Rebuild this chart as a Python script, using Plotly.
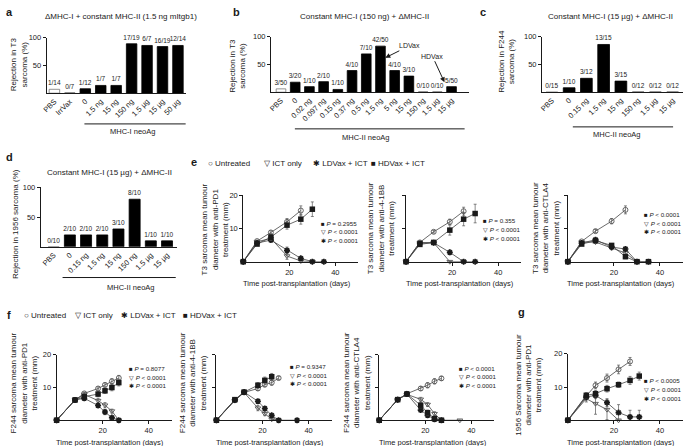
import plotly.graph_objects as go

W, H = 685, 446
INK = "#1a1a1a"
FONT = "Liberation Sans, Arial, sans-serif"

# ---- a: rejection in T3, constant MHC-II ----
a_doses = ["PBS", "IrrVax", "0", "1.5 ng", "15 ng", "150 ng", "1.5 µg", "15 µg", "50 µg"]
a_rejection = [7, 0, 8, 14, 14, 89, 86, 84, 86]
a_counts = ["1/14", "0/7", "1/12", "1/7", "1/7", "17/19", "6/7", "16/19", "12/14"]

# ---- b: rejection in T3, constant MHC-I ----
b_doses = ["PBS", "0", "0.02 ng", "0.097 ng", "0.15 ng", "0.37 ng", "0.5 ng",
           "1.5 ng", "5 ng", "15 ng", "150 ng", "1.5 µg", "15 µg"]
b_rejection = [6, 18, 10, 19, 5, 39, 69, 83, 39, 29, 0, 0, 10]
b_counts = ["3/50", "3/20", "1/10", "2/10", "1/10", "4/10", "7/10",
            "42/50", "4/10", "3/10", "0/10", "0/10", "5/50"]

# ---- c: rejection in F244 ----
c_doses = ["PBS", "0", "0.15 ng", "1.5 ng", "15 ng", "150 ng", "1.5 µg", "15 µg"]
c_rejection = [0, 8, 25, 86, 20, 0, 0, 0]
c_counts = ["0/15", "1/10", "3/12", "13/15", "3/15", "0/12", "0/12", "0/12"]

# ---- d: rejection in 1956 ----
d_doses = ["PBS", "0", "0.15 ng", "1.5 ng", "15 ng", "150 ng", "1.5 µg", "15 µg"]
d_rejection = [0, 20, 20, 20, 30, 80, 10, 10]
d_counts = ["0/10", "2/10", "2/10", "2/10", "3/10", "8/10", "1/10", "1/10"]

# ---- e: T3 tumour growth (mm) ----
e1_days = [0, 6, 12, 19, 25, 30, 35]
e1_untreated = [0, 6.2, 8.8, 12.0, 15.4, None, None]
e1_untreated_err = [0, 0.3, 0.5, 1.0, 1.4, None, None]
e1_ict = [0, 6.0, 7.0, 1.7, 0.2, 0, None]
e1_ict_err = [0, 0.3, 0.6, 1.0, 0.3, 0, None]
e1_ldvax = [0, 5.6, 6.5, 3.4, 1.0, 0, 0]
e1_ldvax_err = [0, 0.3, 0.6, 1.0, 0.6, 0, 0]
e1_hdvax = [0, 5.3, 7.4, 11.0, 12.8, 15.8, None]
e1_hdvax_err = [0, 0.3, 1.0, 1.2, 1.5, 2.2, None]
e1_pvals = ["= 0.2955", "&lt; 0.0001", "&lt; 0.0001"]

e2_days = [0, 6, 12, 19, 25, 30]
e2_untreated = [0, 5.8, 9.0, 12.0, 15.2, None]
e2_untreated_err = [0, 0.3, 0.4, 0.8, 1.2, None]
e2_ict = [0, 5.8, 5.7, 0, 0, None]
e2_ict_err = [0, 0.3, 0.4, 0, 0, None]
e2_ldvax = [0, 5.5, 5.7, 2.8, 0, 0]
e2_ldvax_err = [0, 0.3, 0.4, 0.7, 0, 0]
e2_hdvax = [0, 5.2, 5.8, 9.5, 12.8, 14.5]
e2_hdvax_err = [0, 0.3, 0.4, 1.5, 2.0, 2.8]
e2_pvals = ["= 0.355", "&lt; 0.0001", "&lt; 0.0001"]

e3_days = [0, 6, 12, 19, 25, 30, 35]
e3_untreated = [0, 6.1, 9.2, 12.2, 15.6, None, None]
e3_untreated_err = [0, 0.3, 0.5, 0.8, 1.2, None, None]
e3_ict = [0, 5.9, 5.9, 4.1, 2.6, 0, None]
e3_ict_err = [0, 0.3, 0.4, 0.5, 0.6, 0, None]
e3_ldvax = [0, 5.6, 6.6, 4.4, 3.8, 0, 0]
e3_ldvax_err = [0, 0.3, 0.5, 0.5, 0.6, 0, 0]
e3_hdvax = [0, 5.3, 6.3, 4.9, 1.5, 0, 0]
e3_hdvax_err = [0, 0.3, 0.5, 0.5, 0.6, 0, 0]
e3_pvals = ["&lt; 0.0001", "&lt; 0.0001", "&lt; 0.0001"]

# ---- f: F244 tumour growth (mm) ----
f1_days = [0, 8, 12, 18, 21, 24, 27]
f1_untreated = [0, 6.2, 8.2, 9.7, 10.8, 11.9, 12.9]
f1_untreated_err = [0, 0.3, 0.4, 0.5, 0.6, 0.8, 0.8]
f1_ict = [0, 6.2, 7.9, 6.0, 4.6, 2.8, 0]
f1_ict_err = [0, 0.3, 0.4, 0.7, 0.8, 0.6, 0]
f1_ldvax = [0, 6.2, 6.7, 4.5, 2.5, 0.8, 0]
f1_ldvax_err = [0, 0.3, 0.5, 0.6, 0.8, 0.5, 0]
f1_hdvax = [0, 6.2, 7.2, 8.0, 9.0, 10.0, 11.5]
f1_hdvax_err = [0, 0.3, 0.5, 0.8, 0.8, 1.0, 1.0]
f1_pvals = ["= 0.8077", "&lt; 0.0001", "&lt; 0.0001"]

f2_days = [0, 8, 12, 18, 21, 24, 27, 35]
f2_untreated = [0, 6.2, 8.5, 9.7, 10.9, 11.5, 12.9, None]
f2_untreated_err = [0, 0.3, 0.4, 0.6, 0.7, 0.8, 0.5, None]
f2_ict = [0, 6.0, 8.5, 3.7, 2.0, 0.3, 0, None]
f2_ict_err = [0, 0.3, 0.4, 0.8, 0.6, 0.3, 0, None]
f2_ldvax = [0, 6.2, 8.6, 5.8, 3.6, 1.5, 0, 0]
f2_ldvax_err = [0, 0.3, 0.4, 0.6, 0.6, 0.6, 0, 0]
f2_hdvax = [0, 6.3, 8.6, 10.7, 12.2, 13.3, None, None]
f2_hdvax_err = [0, 0.3, 0.4, 0.8, 1.0, 1.0, None, None]
f2_pvals = ["= 0.9347", "&lt; 0.0001", "&lt; 0.0001"]

f3_days = [0, 8, 12, 18, 21, 24, 27, 35]
f3_untreated = [0, 6.3, 8.1, 9.7, 10.7, 11.9, 12.8, None]
f3_untreated_err = [0, 0.3, 0.4, 0.6, 0.8, 0.8, 0.6, None]
f3_ict = [0, 6.3, 7.9, 6.4, 4.8, 2.0, 0, 0]
f3_ict_err = [0, 0.3, 0.4, 0.6, 0.6, 0.6, 0, 0]
f3_ldvax = [0, 6.3, 8.0, 3.1, 1.5, 0.3, 0, None]
f3_ldvax_err = [0, 0.3, 0.4, 0.6, 0.5, 0.3, 0, None]
f3_hdvax = [0, 6.3, 8.0, 4.6, 2.3, 0.5, 0, None]
f3_hdvax_err = [0, 0.3, 0.4, 0.8, 0.8, 0.4, 0, None]
f3_pvals = ["&lt; 0.0001", "&lt; 0.0001", "&lt; 0.0001"]

# ---- g: 1956 tumour growth (mm) ----
g_days = [0, 8, 12, 17, 22, 27, 31]
g_untreated = [0, 7.3, 10.5, 12.7, 15.3, 17.7, None]
g_untreated_err = [0, 0.8, 1.0, 1.2, 1.3, 1.2, None]
g_ict = [0, 6.5, 5.0, 3.2, 0, None, None]
g_ict_err = [0, 1.0, 3.2, 3.0, 0, None, None]
g_ldvax = [0, 7.0, 7.5, 5.3, 2.3, 1.0, 1.0]
g_ldvax_err = [0, 0.8, 1.0, 1.2, 2.4, 2.0, 2.0]
g_hdvax = [0, 7.5, 8.0, 9.5, 10.7, 12.0, 13.3]
g_hdvax_err = [0, 0.8, 1.0, 1.0, 0.8, 1.2, 1.2]
g_pvals = ["&lt; 0.0005", "&lt; 0.0001", "&lt; 0.0001"]

group_names = ["Untreated", "ICT only", "LDVax + ICT", "HDVax + ICT"]
group_glyphs = ["○", "▽", "✱", "■"]
pval_glyphs = ["■", "▽", "✱"]


def px_x(v):
    return v / W


def px_y(v):
    return 1 - v / H


def ax_ids(n):
    s = "" if n == 1 else str(n)
    return "x" + s, "y" + s, "xaxis" + s, "yaxis" + s


fig = go.Figure()


def note(text, x, y, size=7.5, xanchor="center", yanchor="middle", **kw):
    fig.add_annotation(text=text, x=px_x(x), y=px_y(y), xref="paper", yref="paper",
                       showarrow=False, xanchor=xanchor, yanchor=yanchor,
                       font=dict(size=size, color=INK, family=FONT), **kw)


def hline(x0, x1, y):
    fig.add_shape(type="line", xref="paper", yref="paper", x0=px_x(x0), x1=px_x(x1),
                  y0=px_y(y), y1=px_y(y), line=dict(color=INK, width=1))


def bar_panel(n, cats, vals, counts, x0, x1, ytop, ybot, xrange):
    xr, yr, xa, ya = ax_ids(n)
    fill = ["white"] + ["black"] * (len(cats) - 1)
    edge = ["#777"] + ["black"] * (len(cats) - 1)
    fig.add_trace(go.Bar(
        x=cats, y=vals, text=counts, textposition="outside",
        textfont=dict(size=6.5, color=INK), constraintext="none", cliponaxis=False,
        width=0.68, marker=dict(color=fill, line=dict(color=edge, width=0.8)),
        xaxis=xr, yaxis=yr, showlegend=False, hoverinfo="skip"))
    fig.update_layout({
        xa: dict(domain=[px_x(x0), px_x(x1)], anchor=yr, type="category", range=xrange,
                 showline=True, linecolor=INK, linewidth=1, ticks="", tickangle=-45,
                 tickfont=dict(size=7.5), showgrid=False, zeroline=False),
        ya: dict(domain=[px_y(ybot), px_y(ytop)], anchor=xr, range=[0, 100],
                 tickvals=[50, 100], ticks="outside", ticklen=3, tickwidth=1,
                 tickcolor=INK, showline=True, linecolor=INK, linewidth=1,
                 tickfont=dict(size=7.5), showgrid=False, zeroline=False),
    })


def line_panel(n, days, series, errors, x0, x1, ytop, ybot, ylabels):
    xr, yr, xa, ya = ax_ids(n)
    markers = [
        dict(symbol="circle-open", size=5, color="#555", line=dict(width=0.9, color="#555")),
        dict(symbol="triangle-down-open", size=5, color="#555", line=dict(width=0.9, color="#555")),
        dict(symbol="asterisk-open", size=5, color=INK, line=dict(width=1.6, color=INK)),
        dict(symbol="square", size=5.5, color=INK, line=dict(width=0)),
    ]
    for name, ys, es, mk in zip(group_names, series, errors, markers):
        fig.add_trace(go.Scatter(
            x=days, y=ys, name=name, mode="lines+markers", marker=mk,
            line=dict(color="#444", width=0.8),
            error_y=dict(type="data", array=es, thickness=0.7, width=1.5, color="#555"),
            xaxis=xr, yaxis=yr, cliponaxis=False, showlegend=False, hoverinfo="skip"))
    fig.update_layout({
        xa: dict(domain=[px_x(x0), px_x(x1)], anchor=yr, range=[0, 50], tickvals=[20, 40],
                 ticks="outside", ticklen=3, tickcolor=INK, showline=True, linecolor=INK,
                 linewidth=1, tickfont=dict(size=7.5), showgrid=False, zeroline=False),
        ya: dict(domain=[px_y(ybot), px_y(ytop)], anchor=xr, range=[0, 20], tickvals=[10, 20],
                 ticks="outside", ticklen=3, tickcolor=INK, showline=True, linecolor=INK,
                 linewidth=1, showticklabels=ylabels, tickfont=dict(size=7.5),
                 showgrid=False, zeroline=False),
    })
    note("Time post-transplantation (days)", (x0 + x1) / 2 - 4, ybot + 22, size=7.5)


def pval_block(pvals, x, ys):
    for glyph, p, y in zip(pval_glyphs, pvals, ys):
        note(glyph + " <i>P</i> " + p, x, y, size=6.2, xanchor="left")


# ---- bar panels ----
bar_panel(1, a_doses, a_rejection, a_counts, 42, 182, 34, 90, [-0.5, 8.5])
bar_panel(2, b_doses, b_rejection, b_counts, 268, 467, 33, 89, [-0.7, 13.2])
bar_panel(3, c_doses, c_rejection, c_counts, 541, 683, 33, 89, [-0.57, 7.6])
bar_panel(4, d_doses, d_rejection, d_counts, 36, 173, 185, 245, [-0.8, 7.6])

note("ΔMHC-I + constant MHC-II (1.5 ng mItgb1)", 117, 13, size=8)
note("Constant MHC-I (150 ng) + ΔMHC-II", 362, 13, size=8)
note("Constant MHC-I (15 µg) + ΔMHC-II", 610, 13, size=8)
note("Constant MHC-I (15 µg) + ΔMHC-II", 105, 170, size=8)

note("Rejection in T3<br>sarcoma (%)", 14, 61, size=8, textangle=-90)
note("Rejection in T3<br>sarcoma (%)", 234, 62, size=8, textangle=-90)
note("Rejection in F244<br>sarcoma (%)", 505, 58, size=8, textangle=-90)
note("Rejection in 1956 sarcoma (%)", 10, 222, size=8, textangle=-90)

hline(80, 182, 121)
note("MHC-I neoAg", 128, 129, size=7.5)
hline(292, 463, 126)
note("MHC-II neoAg", 364, 135, size=7.5)
hline(572, 673, 124)
note("MHC-II neoAg", 617, 132, size=7.5)
hline(58, 172, 276)
note("MHC-II neoAg", 127, 286, size=7.5)

fig.add_annotation(text="LDVax", x=7.34, y=62, xref="x2", yref="y2", ax=24, ay=-12,
                   showarrow=True, arrowhead=2, arrowsize=1, arrowwidth=1, arrowcolor=INK,
                   font=dict(size=7, color=INK, family=FONT))
fig.add_annotation(text="HDVax", x=11.5, y=18, xref="x2", yref="y2", ax=-12, ay=-26,
                   showarrow=True, arrowhead=2, arrowsize=1, arrowwidth=1, arrowcolor=INK,
                   font=dict(size=7, color=INK, family=FONT))

# ---- tumour growth panels ----
line_panel(5, e1_days, [e1_untreated, e1_ict, e1_ldvax, e1_hdvax],
           [e1_untreated_err, e1_ict_err, e1_ldvax_err, e1_hdvax_err], 240, 356, 193, 260, True)
line_panel(6, e2_days, [e2_untreated, e2_ict, e2_ldvax, e2_hdvax],
           [e2_untreated_err, e2_ict_err, e2_ldvax_err, e2_hdvax_err], 404, 520, 193, 260, False)
line_panel(7, e3_days, [e3_untreated, e3_ict, e3_ldvax, e3_hdvax],
           [e3_untreated_err, e3_ict_err, e3_ldvax_err, e3_hdvax_err], 567, 683, 193, 260, False)
line_panel(8, f1_days, [f1_untreated, f1_ict, f1_ldvax, f1_hdvax],
           [f1_untreated_err, f1_ict_err, f1_ldvax_err, f1_hdvax_err], 52, 168, 354, 420, True)
line_panel(9, f2_days, [f2_untreated, f2_ict, f2_ldvax, f2_hdvax],
           [f2_untreated_err, f2_ict_err, f2_ldvax_err, f2_hdvax_err], 213, 329, 354, 420, False)
line_panel(10, f3_days, [f3_untreated, f3_ict, f3_ldvax, f3_hdvax],
           [f3_untreated_err, f3_ict_err, f3_ldvax_err, f3_hdvax_err], 377, 493, 354, 420, False)
line_panel(11, g_days, [g_untreated, g_ict, g_ldvax, g_hdvax],
           [g_untreated_err, g_ict_err, g_ldvax_err, g_hdvax_err], 567, 683, 353, 420, True)

note("T3 sarcoma mean tumour<br>diameter with anti-PD1<br>treatment (mm)", 212, 227, size=8, textangle=-90)
note("T3 sarcoma mean tumour<br>diameter with anti-4-1BB<br>treatment (mm)", 379, 226, size=8, textangle=-90)
note("T3 sarcoma mean tumour<br>diameter with anti-CTLA4<br>treatment (mm)", 545, 226, size=8, textangle=-90)
note("F244 sarcoma mean tumour<br>diameter with anti-PD1<br>treatment (mm)", 19, 382, size=8, textangle=-90)
note("F244 sarcoma mean tumour<br>diameter with anti-4-1BB<br>treatment (mm)", 189, 382, size=8, textangle=-90)
note("F244 sarcoma mean tumour<br>diameter with anti-CTLA4<br>treatment (mm)", 354, 382, size=8, textangle=-90)
note("1956 Sarcoma mean tumour<br>diameter with anti-PD1<br>treatment (mm)", 527, 384, size=8, textangle=-90)

pval_block(e1_pvals, 316, [221, 230, 239])
pval_block(e2_pvals, 480, [218, 228, 237])
pval_block(e3_pvals, 642, [212, 221, 230])
pval_block(f1_pvals, 123, [368, 377, 385])
pval_block(f2_pvals, 285, [366, 375, 383])
pval_block(f3_pvals, 455, [368, 376, 385])
pval_block(g_pvals, 642, [380, 389, 398])

# group keys above e and f
for glyph, name, x in zip(group_glyphs, group_names, [202, 259, 308, 367]):
    note(glyph + " " + name, x, 161, size=8, xanchor="left")
for glyph, name, x in zip(group_glyphs, group_names, [17, 68, 115, 177]):
    note(glyph + " " + name, x, 314, size=8, xanchor="left")

# panel letters
for letter, x, y in [("a", 5, 8), ("b", 233, 8), ("c", 482, 8), ("d", 5, 154),
                     ("e", 190, 159), ("f", 4, 314), ("g", 520, 311)]:
    note("<b>" + letter + "</b>", x, y, size=11)

fig.update_layout(
    width=W, height=H, autosize=False,
    margin=dict(l=0, r=0, t=0, b=0),
    paper_bgcolor="white", plot_bgcolor="white",
    font=dict(family=FONT, color=INK, size=7.5),
    showlegend=False, bargap=0.3,
)

# the page body has a default 8px margin; drop it so the figure fills the window
fig.write_html("out.html", config={"displayModeBar": False},
               post_script="document.body.style.margin = '0';")
